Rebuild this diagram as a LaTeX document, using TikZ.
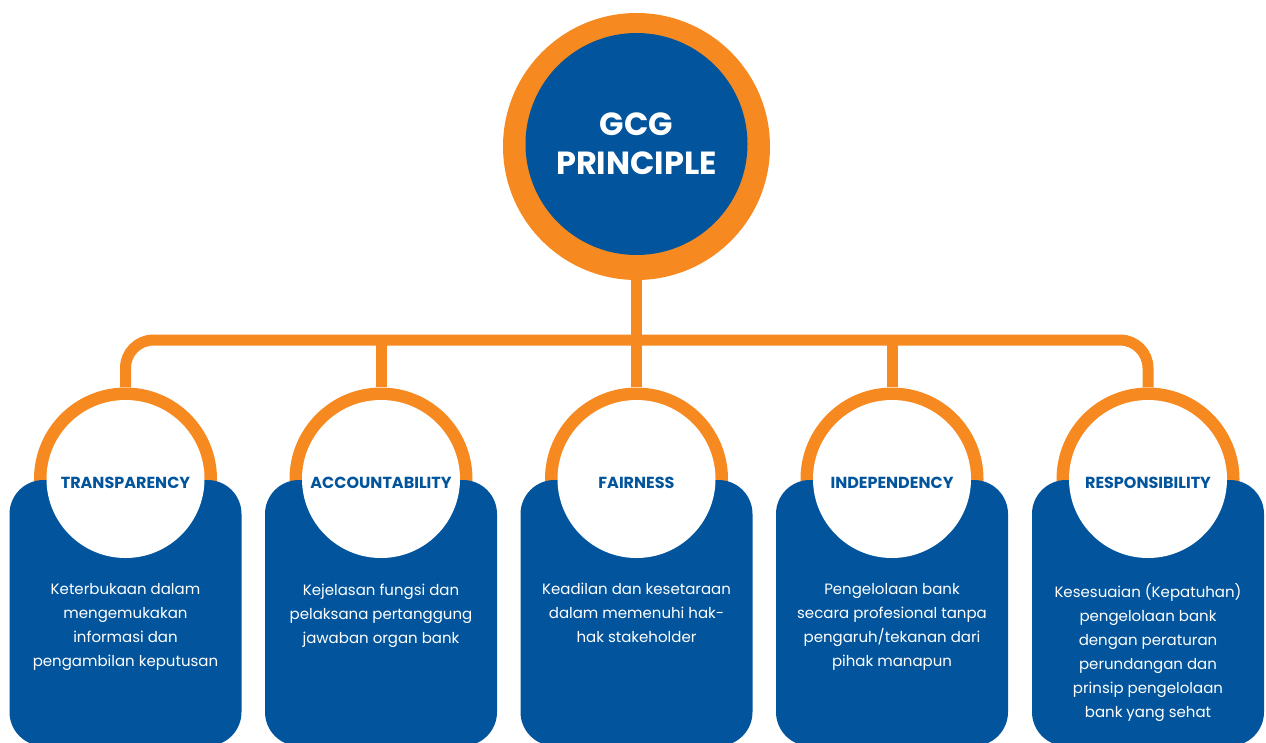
\documentclass[tikz,border=0pt]{standalone}
\usepackage{fontspec}
\setmainfont{Poppins}
\definecolor{gcgorange}{HTML}{F68A20}
\definecolor{gcgblue}{HTML}{02559D}
\begin{document}
\begin{tikzpicture}[x=1pt,y=-1pt,
  link/.style={draw=gcgorange,line width=11pt},
  ring/.style={circle,fill=gcgorange,minimum size=183pt,inner sep=0pt},
  disc/.style={circle,fill=white,minimum size=158pt,inner sep=0pt},
  title/.style={text=gcgblue,font=\fontsize{16}{18}\selectfont\bfseries},
  card/.style={fill=gcgblue,rounded corners=34pt},
  desc/.style={anchor=north,align=center,text=white,font=\fontsize{15}{24}\selectfont}]
\useasboundingbox (0,0) rectangle (1266,742);
\clip (0,0) rectangle (1266,742);
% top circle
\node[circle,fill=gcgorange,minimum size=267pt,inner sep=0pt] (topring) at (636.5,146.5) {};
\node[circle,fill=gcgblue,minimum size=222pt,inner sep=0pt,align=center,text=white,
  font=\fontsize{32}{39}\selectfont\bfseries] (top) at (636.5,144) {GCG\\PRINCIPLE};
% child rings
\foreach \i/\x in {1/125.5,2/381,3/636.5,4/892,5/1148}{
  \node[ring] (r\i) at (\x,479) {};
}
\coordinate (bar) at (636.5,340);
% connectors
\draw[link] (topring.south) -- (bar);
\draw[link,rounded corners=28pt] (r1.north) |- (bar) -| (r5.north);
\draw[link] (r2.north) -- (r2.north |- bar);
\draw[link] (r3.north) -- (r3.north |- bar);
\draw[link] (r4.north) -- (r4.north |- bar);
% cards
\foreach \i/\x in {1/125.5,2/381,3/636.5,4/892,5/1148}{
  \fill[card] (\x-116,480) rectangle (\x+116,746);
}
% white discs with titles
\foreach \i/\x in {1/125.5,2/381,3/636.5,4/892,5/1148}{
  \node[disc] (d\i) at (\x,479) {};
}
\node[title] (h1) at ([yshift=-3.5pt]d1.center) {TRANSPARENCY};
\node[title] (h2) at ([yshift=-3.5pt]d2.center) {ACCOUNTABILITY};
\node[title] (h3) at ([yshift=-3.5pt]d3.center) {FAIRNESS};
\node[title] (h4) at ([yshift=-3.5pt]d4.center) {INDEPENDENCY};
\node[title] (h5) at ([yshift=-3.5pt]d5.center) {RESPONSIBILITY};
% descriptions
\node[desc] (t1) at (125.5,580) {Keterbukaan dalam\\mengemukakan\\informasi dan\\pengambilan keputusan};
\node[desc] (t2) at (381,580) {Kejelasan fungsi dan\\pelaksana pertanggung\\jawaban organ bank};
\node[desc] (t3) at (636.5,580) {Keadilan dan kesetaraan\\dalam memenuhi hak-\\hak stakeholder};
\node[desc] (t4) at (892,580) {Pengelolaan bank\\secara profesional tanpa\\pengaruh/tekanan dari\\pihak manapun};
\node[desc] (t5) at (1148,580) {Kesesuaian (Kepatuhan)\\pengelolaan bank\\dengan peraturan\\perundangan dan\\prinsip pengelolaan\\bank yang sehat};
\end{tikzpicture}
\end{document}
